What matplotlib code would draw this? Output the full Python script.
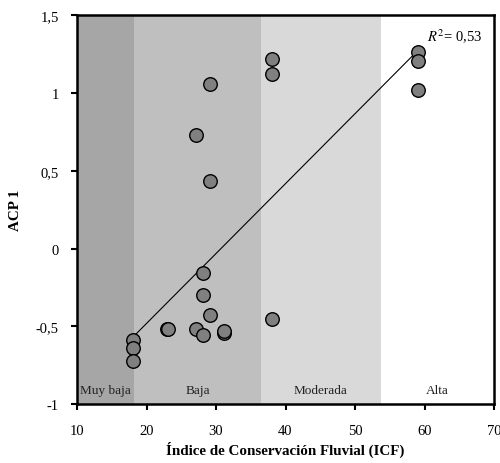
import numpy as np
import matplotlib.pyplot as plt
import matplotlib as mpl

mpl.rcParams.update({
    "font.family": "Liberation Serif",
    "mathtext.fontset": "stix",
})

# ICF vs ACP 1
icf = [18.1, 18.1, 18.1, 23.0, 23.1, 27.1, 28.2, 29.1, 28.2, 31.2, 31.1,
       38.1, 27.1, 29.1, 28.1, 29.1, 38.1, 38.1, 59.1, 59.1, 59.1]
acp = [-0.59, -0.64, -0.72, -0.515, -0.52, -0.52, -0.555, -0.43, -0.30, -0.54, -0.53,
       -0.455, 0.73, 0.435, -0.155, 1.055, 1.22, 1.125, 1.265, 1.205, 1.02]

# class bands
band_edges = [10, 18.2, 36.5, 53.7, 70]
band_names = ['Muy baja', 'Baja', 'Moderada', 'Alta']
band_colors = ['#a6a6a6', '#bfbfbf', '#d9d9d9', '#ffffff']

yticks = [-1, -0.5, 0, 0.5, 1, 1.5]
ytick_labels = ['-1', '-0,5', '0', '0,5', '1', '1,5']
xticks = [10, 20, 30, 40, 50, 60, 70]

fig = plt.figure(figsize=(5.0, 4.64), dpi=100)
ax = fig.add_axes([0.154, 0.127, 0.834, 0.838])

for i in range(len(band_names)):
    ax.axvspan(band_edges[i], band_edges[i+1], color=band_colors[i], lw=0, zorder=0)
    ax.text((band_edges[i] + band_edges[i+1]) / 2, -0.91, band_names[i],
            ha='center', va='center', fontsize=9.5, color='#222222')

# linear fit
x = np.array(icf)
y = np.array(acp)
m, b = np.polyfit(x, y, 1)
xf = np.array([x.min(), x.max()])
ax.plot(xf, m * xf + b, color='black', lw=0.8, zorder=2)

ax.scatter(x, y, s=95, facecolor='#808080', edgecolor='black', linewidths=1.0, zorder=3)

ax.text(60.4, 1.37, r'$R^2$= 0,53', fontsize=10.5, ha='left', va='center')

ax.set_xlim(10, 70)
ax.set_ylim(-1, 1.5)
ax.set_xticks(xticks)
ax.set_yticks(yticks)
ax.set_yticklabels(ytick_labels)
ax.tick_params(direction='out', length=4, width=1.5, labelsize=10.5)
ax.tick_params(axis='x', pad=10)
ax.tick_params(axis='y', pad=9)
for s in ax.spines.values():
    s.set_linewidth(1.8)

ax.set_xlabel('Índice de Conservación Fluvial (ICF)', fontsize=10.8, fontweight='bold', labelpad=3)
ax.set_ylabel('ACP 1', fontsize=10.8, fontweight='bold', labelpad=10)

plt.savefig('out.png', dpi=100)
